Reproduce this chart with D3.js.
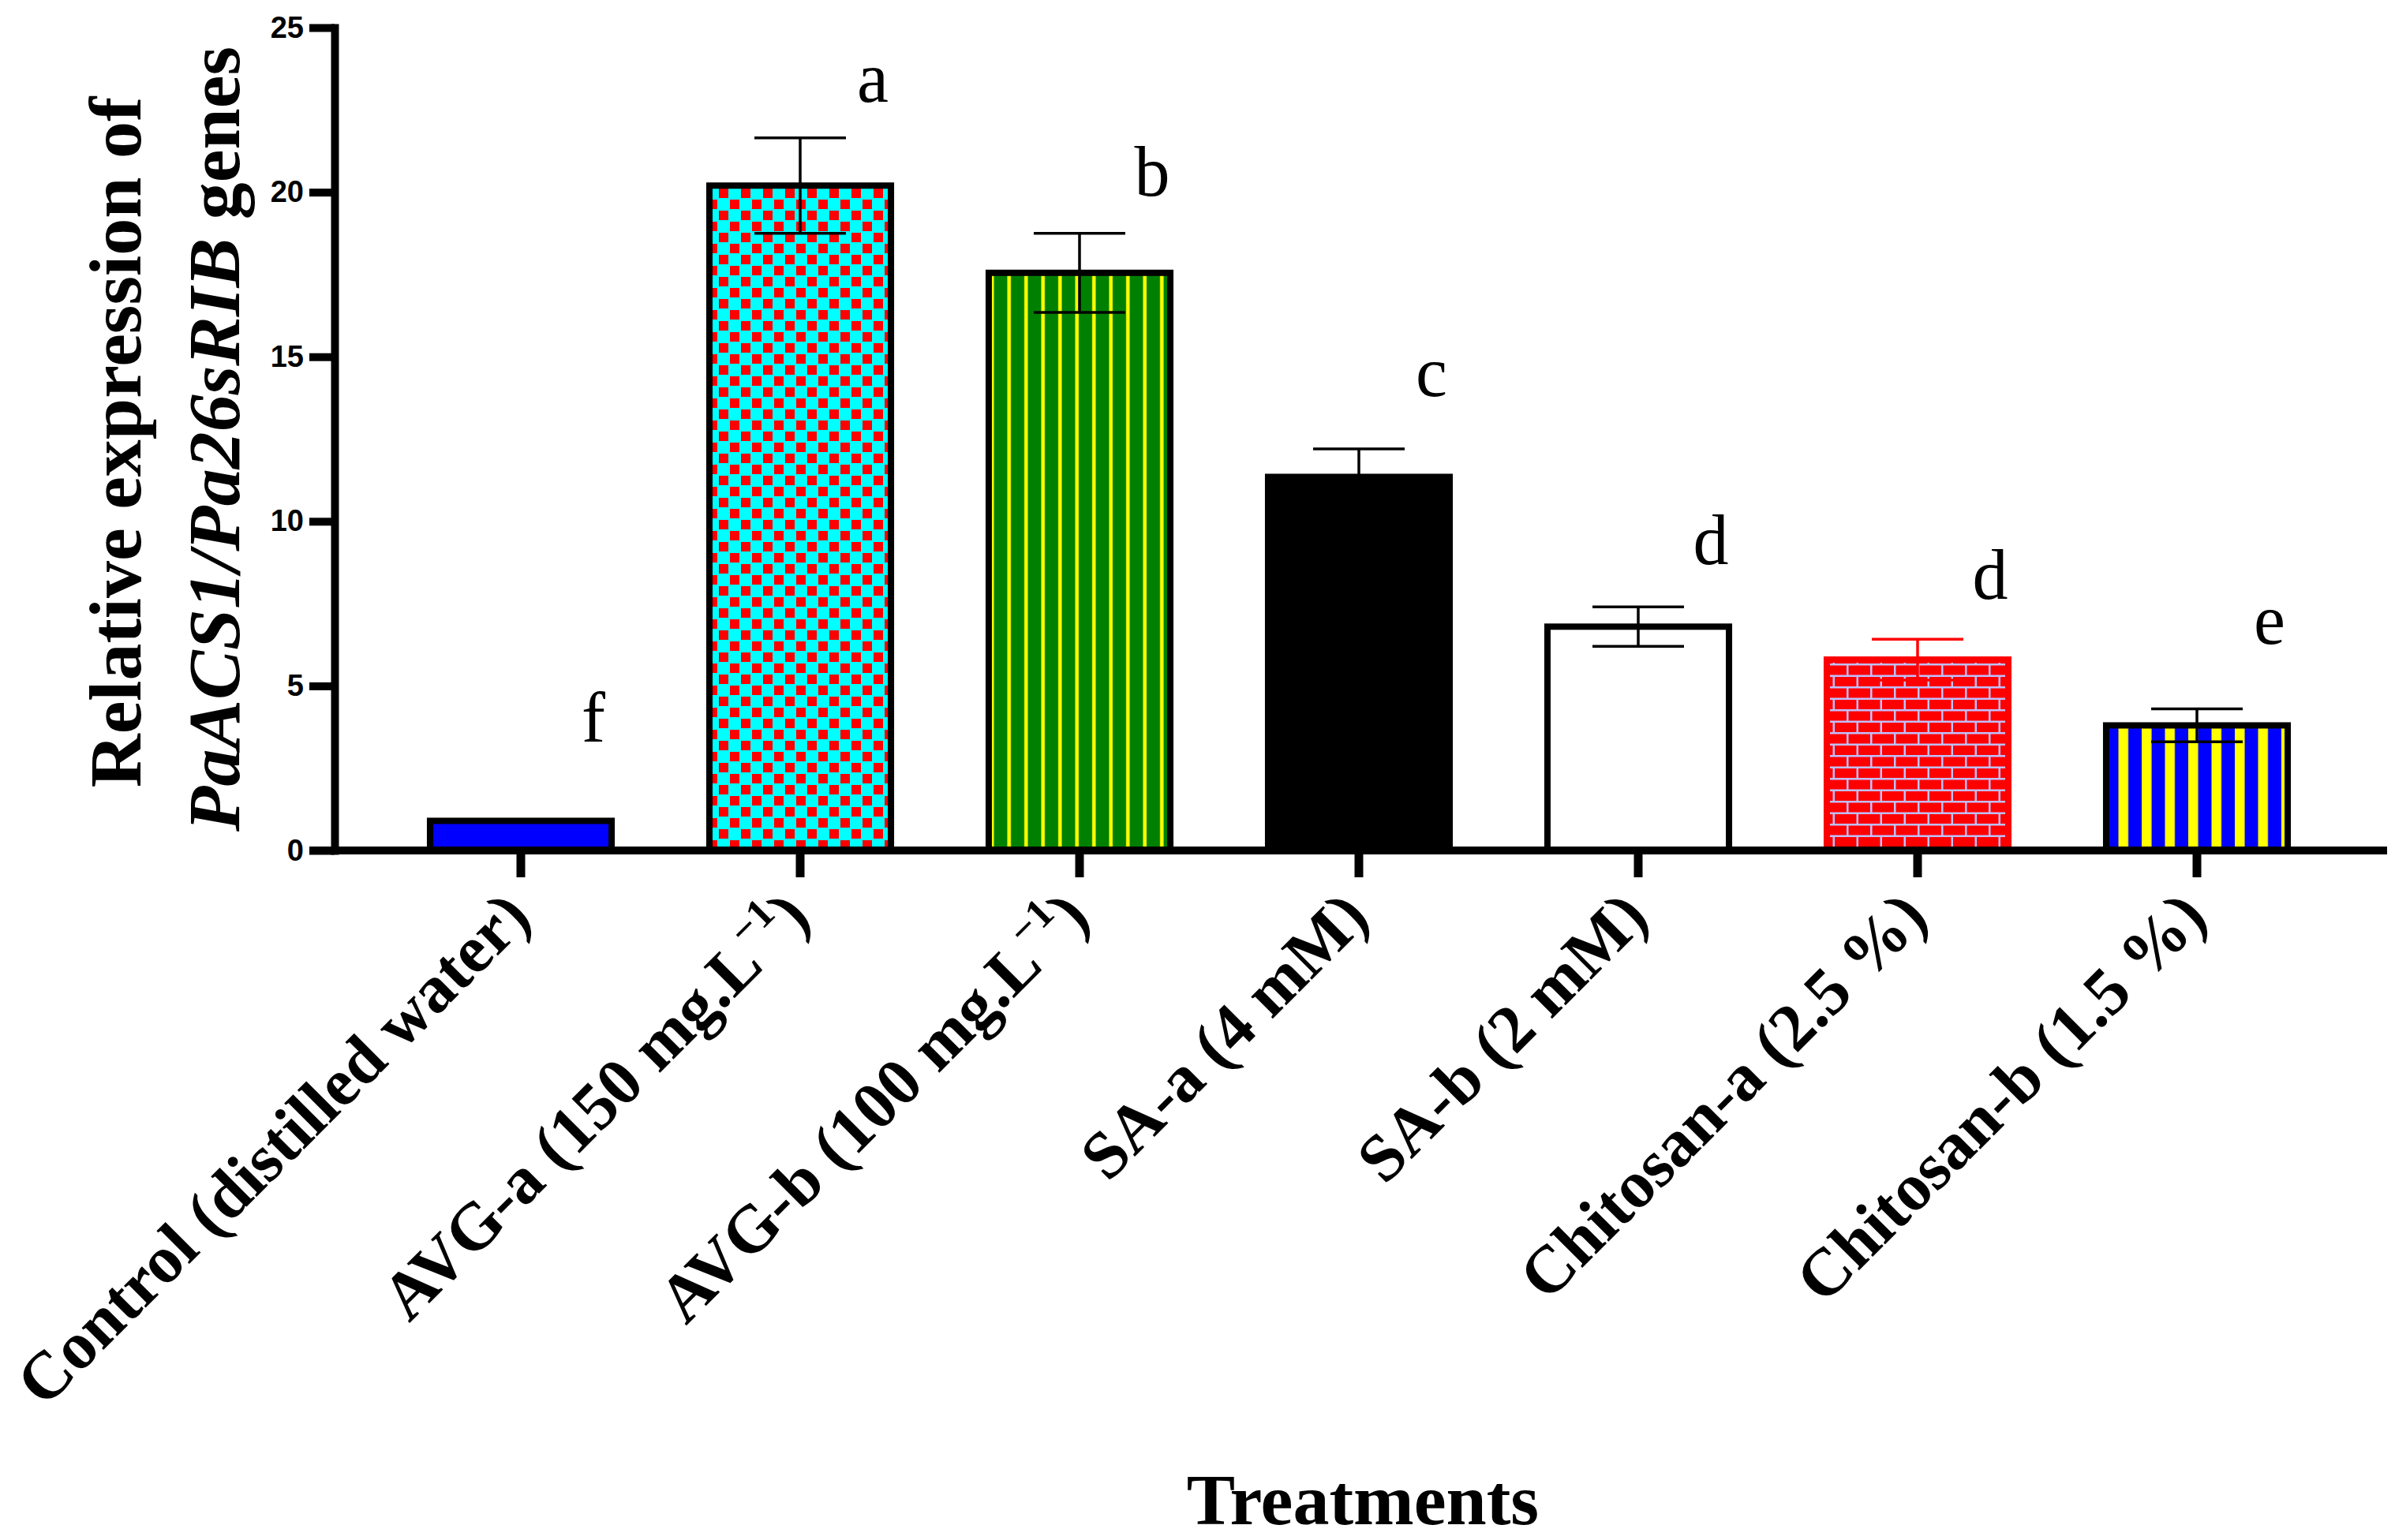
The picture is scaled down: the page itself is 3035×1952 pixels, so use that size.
<!DOCTYPE html>
<html><head><meta charset="utf-8">
<script src="https://cdn.jsdelivr.net/npm/d3@7"></script>
<style>body{margin:0;background:#fff}</style>
</head><body><svg id="chart" width="3035" height="1952"></svg>
<script>
// ---- data ----
const categories = ["Control (distilled water)","AVG-a (150 mg.L^−1^)","AVG-b (100 mg.L^−1^)","SA-a (4 mM)","SA-b (2 mM)","Chitosan-a (2.5 %)","Chitosan-b (1.5 %)"];
const means = [0.9, 20.2, 17.55, 11.35, 6.8, 5.8, 3.8];
const errors = [0.04, 1.45, 1.2, 0.85, 0.6, 0.62, 0.5];
const letters = ["f","a","b","c","d","d","e"];
const letterY = [3.3, 22.75, 19.9, 13.8, 8.7, 7.65, 6.28];
const yTicks = [0, 5, 10, 15, 20, 25];
const yTitle1 = "Relative expression of";
const yTitle2Italic = "PaACS1/Pa26sRIB";
const yTitle2Rest = " genes";
const xTitle = "Treatments";

// ---- styles ----
const fills = ["#0000ff","url(#checker)","url(#greenStripe)","#000000","#ffffff","url(#brick)","url(#blueStripe)"];
const strokes = ["#000","#000","#000","#000","#000","#ff0000","#000"];
const SERIF = "'Liberation Serif','Times New Roman',serif";
const SANS = "'Liberation Sans',Arial,sans-serif";

const svg = d3.select("#chart");
svg.append("rect").attr("width",3035).attr("height",1952).attr("fill","#fff");

const axisX = 424, xEnd = 3025;
const y = d3.scaleLinear().domain([0,25]).range([1078,35]);
const x = d3.scaleBand().domain(categories).range([483,2961]).paddingInner(0.35).paddingOuter(0.175);

// ---- patterns ----
const defs = svg.append("defs");
const p1 = defs.append("pattern").attr("id","checker").attr("patternUnits","userSpaceOnUse").attr("width",28).attr("height",28);
p1.append("rect").attr("width",28).attr("height",28).attr("fill","#00ffff");
p1.append("rect").attr("x",1).attr("y",1).attr("width",12).attr("height",12).attr("fill","#ff0000");
p1.append("rect").attr("x",15).attr("y",15).attr("width",12).attr("height",12).attr("fill","#ff0000");

const p2 = defs.append("pattern").attr("id","greenStripe").attr("patternUnits","userSpaceOnUse").attr("width",21.5).attr("height",20);
p2.append("rect").attr("width",21.5).attr("height",20).attr("fill","#008000");
p2.append("rect").attr("x",8).attr("width",4.5).attr("height",20).attr("fill","#ffff00");

const p3 = defs.append("pattern").attr("id","brick").attr("patternUnits","userSpaceOnUse").attr("width",30).attr("height",29);
p3.append("rect").attr("width",30).attr("height",29).attr("fill","#c0c0ff");
p3.append("rect").attr("x",2.5).attr("y",2.5).attr("width",27.5).attr("height",12).attr("fill","#ff0000");
p3.append("rect").attr("x",0).attr("y",17).attr("width",12.5).attr("height",12).attr("fill","#ff0000");
p3.append("rect").attr("x",15).attr("y",17).attr("width",15).attr("height",12).attr("fill","#ff0000");

const p4 = defs.append("pattern").attr("id","blueStripe").attr("patternUnits","userSpaceOnUse").attr("width",29.5).attr("height",20);
p4.append("rect").attr("width",29.5).attr("height",20).attr("fill","#0000ff");
p4.append("rect").attr("x",0).attr("width",12.5).attr("height",20).attr("fill","#ffff00");

// ---- bars ----
const data = categories.map((c,i)=>({c, m:means[i], e:errors[i], l:letters[i], ly:letterY[i], i}));
svg.append("g").selectAll("rect").data(data).join("rect")
  .attr("x", d=>x(d.c)).attr("width", x.bandwidth())
  .attr("y", d=>y(d.m)).attr("height", d=>y(0)-y(d.m))
  .attr("fill", d=>fills[d.i]).attr("stroke", d=>strokes[d.i]).attr("stroke-width",8);

// ---- error bars ----
const capW = 116;
const eg = svg.append("g").attr("stroke-width",3.5);
data.forEach(d=>{
  const cx = x(d.c)+x.bandwidth()/2;
  const col = strokes[d.i];
  eg.append("line").attr("x1",cx).attr("x2",cx).attr("y1",y(d.m-d.e)).attr("y2",y(d.m+d.e)).attr("stroke",col);
  eg.append("line").attr("x1",cx-capW/2).attr("x2",cx+capW/2).attr("y1",y(d.m+d.e)).attr("y2",y(d.m+d.e)).attr("stroke",col);
  eg.append("line").attr("x1",cx-capW/2).attr("x2",cx+capW/2).attr("y1",y(d.m-d.e)).attr("y2",y(d.m-d.e)).attr("stroke",col);
});

// ---- significance letters ----
svg.append("g").selectAll("text").data(data).join("text")
  .attr("x", d=>x(d.c)+x.bandwidth()/2+92).attr("y", d=>y(d.ly))
  .attr("text-anchor","middle").attr("font-family",SERIF).attr("font-size",90)
  .text(d=>d.l);

// ---- x axis ----
svg.append("line").attr("x1",392).attr("x2",xEnd).attr("y1",y(0)).attr("y2",y(0))
  .attr("stroke","#000").attr("stroke-width",10);
const xg = svg.append("g").attr("transform",`translate(0,${y(0)})`)
  .call(d3.axisBottom(x).tickSize(34).tickSizeOuter(0));
xg.select(".domain").remove();
xg.selectAll(".tick line").attr("stroke","#000").attr("stroke-width",11);
xg.selectAll(".tick text").each(function(d){
  const t = d3.select(this);
  t.text(null).attr("x",null).attr("y",null).attr("dy",null)
   .attr("transform","translate(16,88) rotate(-45)")
   .attr("text-anchor","end").attr("font-family",SERIF).attr("font-weight","bold")
   .attr("font-size",85).attr("fill","#000");
  const parts = d.split("^");
  parts.forEach((p,k)=>{
    if(!p) return;
    if(k%2===1){
      t.append("tspan").attr("font-size",53).attr("dy",-36).text(p);
    } else {
      const ts = t.append("tspan").text(p);
      if(k>0) ts.attr("dy",36);
    }
  });
});

// ---- y axis ----
const yg = svg.append("g").attr("transform",`translate(${axisX},0)`)
  .call(d3.axisLeft(y).tickValues(yTicks).tickSize(32).tickPadding(7).tickSizeOuter(0));
yg.select(".domain").attr("stroke","#000").attr("stroke-width",10).attr("stroke-linecap","square");
yg.selectAll(".tick line").attr("stroke","#000").attr("stroke-width",10);
yg.selectAll(".tick text").attr("font-family",SANS).attr("font-weight","bold").attr("font-size",38).attr("fill","#000");

// ---- titles ----
const cy = (y(0)+y(25))/2;
svg.append("text").attr("transform",`translate(178,${cy+4}) rotate(-90)`)
  .attr("text-anchor","middle").attr("font-family",SERIF).attr("font-weight","bold").attr("font-size",94)
  .text(yTitle1);
const t2 = svg.append("text").attr("transform",`translate(303,${cy}) rotate(-90)`)
  .attr("text-anchor","middle").attr("font-family",SERIF).attr("font-weight","bold").attr("font-size",94);
t2.append("tspan").attr("font-style","italic").text(yTitle2Italic);
t2.append("tspan").text(yTitle2Rest);

svg.append("text").attr("x",1727).attr("y",1932).attr("text-anchor","middle")
  .attr("font-family",SERIF).attr("font-weight","bold").attr("font-size",92).text(xTitle);
</script></body></html>
